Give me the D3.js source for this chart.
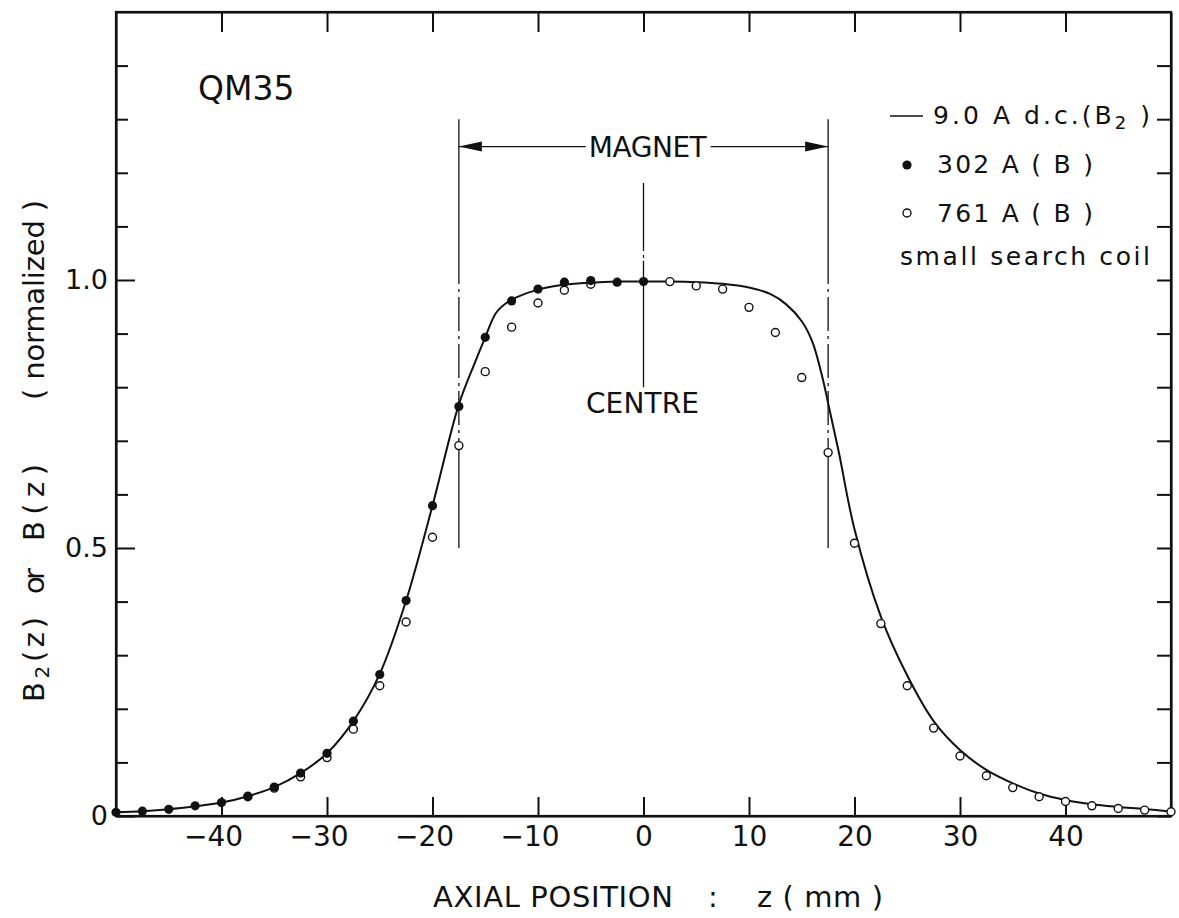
<!DOCTYPE html>
<html>
<head>
<meta charset="utf-8">
<script src="https://cdn.jsdelivr.net/npm/d3@7"></script>
<style>
body { margin: 0; background: #fff; }
svg text { font-family: "DejaVu Sans", sans-serif; fill: #111; }
</style>
</head>
<body>
<svg id="chart" width="1179" height="918"></svg>
<script>
// 9.0 A d.c. curve (B2)
var curveZ = [-50, -47.5, -45, -42.5, -40, -37.5, -35, -32.5, -30, -27.5, -25, -22.5, -20, -17.5, -16, -15, -14, -13, -12, -10,
  -7.5, -5, -2.5, 0, 2.5, 5, 7.5, 10, 12, 13.5, 15, 16, 17, 17.5, 18.5, 20, 22.5, 25, 27.5, 30, 32.5, 35, 37.5, 40, 42.5, 45, 47.5, 50];
var curveB = [0.007, 0.009, 0.0125, 0.018, 0.025, 0.037, 0.054, 0.080, 0.117, 0.177, 0.265, 0.402, 0.579, 0.768, 0.845, 0.893, 0.938, 0.957, 0.968, 0.982,
  0.991, 0.995, 0.997, 0.997, 0.997, 0.996, 0.993, 0.986, 0.974, 0.955, 0.923, 0.885, 0.815, 0.770, 0.680, 0.535, 0.372, 0.262, 0.177, 0.123, 0.086, 0.061, 0.042, 0.030, 0.022, 0.017, 0.013, 0.008];

// 302 A (filled dots)
var z302 = [-50, -47.5, -45, -42.5, -40, -37.5, -35, -32.5, -30, -27.5, -25, -22.5, -20, -17.5, -15, -12.5, -10, -7.5, -5, -2.5, 0];
var b302 = [0.007, 0.009, 0.0125, 0.019, 0.025, 0.037, 0.054, 0.080, 0.117, 0.177, 0.264, 0.402, 0.579, 0.764, 0.893, 0.961, 0.983, 0.996, 0.999, 0.996, 0.997];

// 761 A (open dots)
var z761 = [-37.5, -35, -32.5, -30, -27.5, -25, -22.5, -20, -17.5, -15, -12.5, -10, -7.5, -5,
  2.5, 5, 7.5, 10, 12.5, 15, 17.5, 20, 22.5, 25, 27.5, 30, 32.5, 35, 37.5, 40, 42.5, 45, 47.5, 50];
var b761 = [0.036, 0.052, 0.073, 0.109, 0.162, 0.243, 0.362, 0.520, 0.691, 0.829, 0.912, 0.957, 0.981, 0.992,
  0.997, 0.989, 0.983, 0.949, 0.902, 0.818, 0.678, 0.509, 0.359, 0.243, 0.164, 0.112, 0.075, 0.053, 0.036, 0.027, 0.019, 0.014, 0.011, 0.008];

var xTickValues = [-40, -30, -20, -10, 0, 10, 20, 30, 40];
var yTickValues = [0, 0.1, 0.2, 0.3, 0.4, 0.5, 0.6, 0.7, 0.8, 0.9, 1.0, 1.1, 1.2, 1.3, 1.4];
var yLabelValues = [0, 0.5, 1.0];
var yLabelText = ["0", "0.5", "1.0"];
var magnetEnds = [-17.5, 17.5];

var svg = d3.select("#chart");
var ink = "#111";

var x = d3.scaleLinear().domain([-50, 50]).range([116, 1171]);
var y = d3.scaleLinear().domain([0, 1.5]).range([816, 12]);

// stretch/squeeze letter spacing so a text covers the measured width
function fit(t, target) {
    var node = t.node();
    var n = node.textContent.length;
    var w = node.getComputedTextLength();
    t.attr("letter-spacing", ((target - w) / Math.max(n - 1, 1)).toFixed(2));
}

function styleAxis(g) {
    g.attr("font-family", null).attr("font-size", null).attr("color", ink);
    g.selectAll("line").attr("stroke-width", 2);
    g.selectAll("path").attr("stroke-width", 2.2);
}

// frame
svg.append("rect")
    .attr("x", x(-50)).attr("y", y(1.5))
    .attr("width", x(50) - x(-50)).attr("height", y(0) - y(1.5))
    .attr("fill", "none").attr("stroke", ink).attr("stroke-width", 2.2);

// bottom axis
var gx = svg.append("g").attr("transform", "translate(0," + y(0) + ")")
    .call(d3.axisBottom(x).tickValues(xTickValues).tickSizeInner(-19).tickSizeOuter(0).tickPadding(10)
        .tickFormat(function(d) { return d < 0 ? "\u2212" + Math.abs(d) : "" + d; }));
styleAxis(gx);
gx.selectAll("text").attr("font-size", 28).attr("dx", function(d) { return d < 0 ? "-0.3em" : 0; });

// top axis
var gt = svg.append("g").attr("transform", "translate(0," + y(1.5) + ")")
    .call(d3.axisTop(x).tickValues(xTickValues).tickSizeInner(-20).tickSizeOuter(0).tickFormat(""));
styleAxis(gt);

// left axis
var gy = svg.append("g").attr("transform", "translate(" + x(-50) + ",0)")
    .call(d3.axisLeft(y).tickValues(yTickValues).tickSizeInner(-12).tickSizeOuter(0).tickPadding(8)
        .tickFormat(function(d) {
            var i = yLabelValues.indexOf(d);
            return i < 0 ? "" : yLabelText[i];
        }));
styleAxis(gy);
gy.selectAll(".tick line").attr("x2", function(d) { return yLabelValues.indexOf(d) < 0 ? 12 : 19; });
gy.selectAll("text").attr("font-size", 27);

// right axis
var gr = svg.append("g").attr("transform", "translate(" + x(50) + ",0)")
    .call(d3.axisRight(y).tickValues(yTickValues).tickSizeInner(-14).tickSizeOuter(0).tickFormat(""));
styleAxis(gr);

// magnet ends: solid, dash-dot, solid
magnetEnds.forEach(function(z) {
    var segs = [[1.30, 1.056, null], [1.056, 0.688, "34,5,3,5"], [0.688, 0.5, null]];
    segs.forEach(function(s) {
        svg.append("line")
            .attr("x1", x(z)).attr("x2", x(z))
            .attr("y1", y(s[0])).attr("y2", y(s[1]))
            .attr("stroke", ink).attr("stroke-width", 1.3)
            .attr("stroke-dasharray", s[2]);
    });
});

// MAGNET label and arrows
var arrowY = y(1.249);
var mag = svg.append("text").attr("x", x(0) + 4).attr("y", y(1.23))
    .attr("text-anchor", "middle").attr("font-size", 28).text("MAGNET");
fit(mag, 118);
var mb = mag.node().getBBox();
svg.append("line").attr("x1", x(-17.5)).attr("x2", mb.x - 3).attr("y1", arrowY).attr("y2", arrowY)
    .attr("stroke", ink).attr("stroke-width", 1.3);
svg.append("line").attr("x1", mb.x + mb.width + 3).attr("x2", x(17.5)).attr("y1", arrowY).attr("y2", arrowY)
    .attr("stroke", ink).attr("stroke-width", 1.3);
magnetEnds.forEach(function(z) {
    var tip = x(z), dir = z < 0 ? 1 : -1;
    svg.append("path")
        .attr("d", "M" + tip + "," + arrowY + "L" + (tip + dir * 23) + "," + (arrowY - 5) +
            "L" + (tip + dir * 23) + "," + (arrowY + 5) + "Z")
        .attr("fill", ink);
});

// centre line
[[1.181, 1.058, null], [1.058, 1.036, "2,4,3,4"], [1.036, 0.80, null]].forEach(function(s) {
    svg.append("line")
        .attr("x1", x(0)).attr("x2", x(0))
        .attr("y1", y(s[0])).attr("y2", y(s[1]))
        .attr("stroke", ink).attr("stroke-width", 1.3)
        .attr("stroke-dasharray", s[2]);
});
var cen = svg.append("text").attr("x", x(0) - 1).attr("y", y(0.752))
    .attr("text-anchor", "middle").attr("font-size", 28).text("CENTRE");
fit(cen, 113);

// curve
var line = d3.line()
    .x(function(d, i) { return x(curveZ[i]); })
    .y(function(d) { return y(d); })
    .curve(d3.curveCatmullRom.alpha(0.5));
svg.append("path").datum(curveB)
    .attr("d", line)
    .attr("fill", "none").attr("stroke", ink).attr("stroke-width", 2);

// data points
svg.selectAll(".open").data(b761).enter().append("circle")
    .attr("class", "open")
    .attr("cx", function(d, i) { return x(z761[i]); })
    .attr("cy", function(d) { return y(d); })
    .attr("r", 4)
    .attr("fill", "#fff").attr("stroke", ink).attr("stroke-width", 1.4);
svg.selectAll(".full").data(b302).enter().append("circle")
    .attr("class", "full")
    .attr("cx", function(d, i) { return x(z302[i]); })
    .attr("cy", function(d) { return y(d); })
    .attr("r", 4.6)
    .attr("fill", ink);

// QM35
svg.append("text").attr("x", 198).attr("y", 100).attr("font-size", 33).text("QM35");

// legend
svg.append("line").attr("x1", 890).attr("x2", 923).attr("y1", 116).attr("y2", 116)
    .attr("stroke", ink).attr("stroke-width", 1.5);
var l1 = svg.append("text").attr("x", 933).attr("y", 124).attr("font-size", 25);
l1.append("tspan").text("9.0 A d.c.(B");
l1.append("tspan").attr("font-size", 18).attr("dy", 5).text("2");
l1.append("tspan").attr("dy", -5).text(" )");
fit(l1, 217);
svg.append("circle").attr("cx", 907).attr("cy", 165).attr("r", 4.6).attr("fill", ink);
var l2 = svg.append("text").attr("x", 937).attr("y", 173).attr("font-size", 25).text("302 A ( B )");
fit(l2, 156);
svg.append("circle").attr("cx", 907).attr("cy", 213).attr("r", 4)
    .attr("fill", "#fff").attr("stroke", ink).attr("stroke-width", 1.4);
var l3 = svg.append("text").attr("x", 937).attr("y", 222).attr("font-size", 25).text("761 A ( B )");
fit(l3, 156);
var l4 = svg.append("text").attr("x", 900).attr("y", 265).attr("font-size", 25).text("small search coil");
fit(l4, 250);

// x title
var xt1 = svg.append("text").attr("x", 433).attr("y", 907).attr("font-size", 29).text("AXIAL POSITION");
fit(xt1, 240);
svg.append("text").attr("x", 713).attr("y", 907).attr("font-size", 29).attr("text-anchor", "middle").text(":");
var xt2 = svg.append("text").attr("x", 757).attr("y", 907).attr("font-size", 29).text("z ( mm )");
fit(xt2, 126);

// y title, rotated
var gyt = svg.append("g").attr("transform", "translate(44,0) rotate(-90)");
var yt1 = gyt.append("text").attr("x", -702).attr("y", 0).attr("font-size", 29);
yt1.append("tspan").text("B");
yt1.append("tspan").attr("font-size", 20).attr("dy", 5).text("2");
yt1.append("tspan").attr("dy", -5).text("(z)");
fit(yt1, 85);
var yt2 = gyt.append("text").attr("x", -594).attr("y", 0).attr("font-size", 29).text("or");
fit(yt2, 26);
var yt3 = gyt.append("text").attr("x", -541).attr("y", 0).attr("font-size", 29).text("B(z)");
fit(yt3, 77);
var yt4 = gyt.append("text").attr("x", -400).attr("y", 0).attr("font-size", 29).text("( normalized )");
fit(yt4, 200);
</script>
</body>
</html>
